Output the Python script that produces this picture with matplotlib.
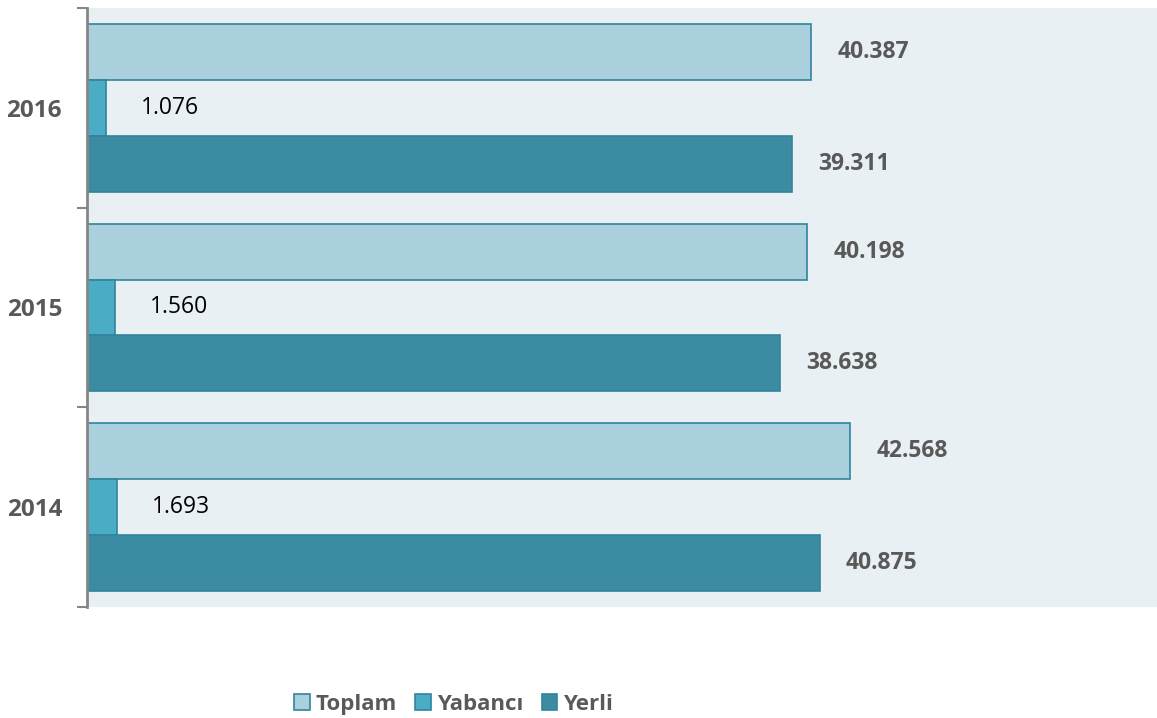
import matplotlib.pyplot as plt
import numpy as np

years = ["2014", "2015", "2016"]
toplam = [42568, 40198, 40387]
yabanci = [1693, 1560, 1076]
yerli = [40875, 38638, 39311]

series = ["Toplam", "Yabancı", "Yerli"]
colors = ["#AACFDD", "#4BACC6", "#3B8BA2"]
edge = "#31849B"

plt.rcParams['font.family'] = ['Open Sans', 'DejaVu Sans']

fig = plt.figure(figsize=(11.57, 7.18), dpi=100)
ax = fig.add_axes([0.0752, 0.1546, 0.9248, 0.8343])
ax.set_facecolor("#E9F0F4")

y = np.arange(len(years))
h = 0.28
for vals, off, col, name in zip([toplam, yabanci, yerli], [h, 0, -h], colors, series):
    bars = ax.barh(y + off, vals, height=h, color=col, edgecolor=edge, linewidth=1.2, label=name)
    for b, v in zip(bars, vals):
        lab = f"{v / 1000:.3f}"
        if name == "Yabancı":
            ax.annotate(lab, (v, b.get_y() + h / 2), xytext=(25, 0), textcoords="offset points",
                        va="center", ha="left", fontsize=16.5, color="black")
        else:
            ax.annotate(lab, (v, b.get_y() + h / 2), xytext=(19, 0), textcoords="offset points",
                        va="center", ha="left", fontsize=16.5, color="#595959", fontweight="bold")

ax.set_xlim(0, 59700)
ax.set_ylim(-0.5, 2.5)
ax.set_xticks([])
ax.set_yticks(y)
ax.set_yticklabels(years, fontsize=17.5, fontweight="bold", color="#595959")
ax.tick_params(axis="y", which="major", length=0, pad=18)
ax.set_yticks([-0.5, 0.5, 1.5, 2.5], minor=True)
ax.tick_params(axis="y", which="minor", length=7, width=1.5, color="#868686", direction="out")

for s in ["top", "right", "bottom"]:
    ax.spines[s].set_visible(False)
ax.spines["left"].set_color("#868686")
ax.spines["left"].set_linewidth(2)

leg = fig.legend(loc="center", bbox_to_anchor=(0.392, 0.019), ncol=3, frameon=False,
                 handlelength=0.7, handleheight=0.7, handletextpad=0.25, columnspacing=0.85,
                 prop={"size": 16, "weight": "bold"})
for t in leg.get_texts():
    t.set_color("#595959")

fig.savefig("out.png", dpi=100)
